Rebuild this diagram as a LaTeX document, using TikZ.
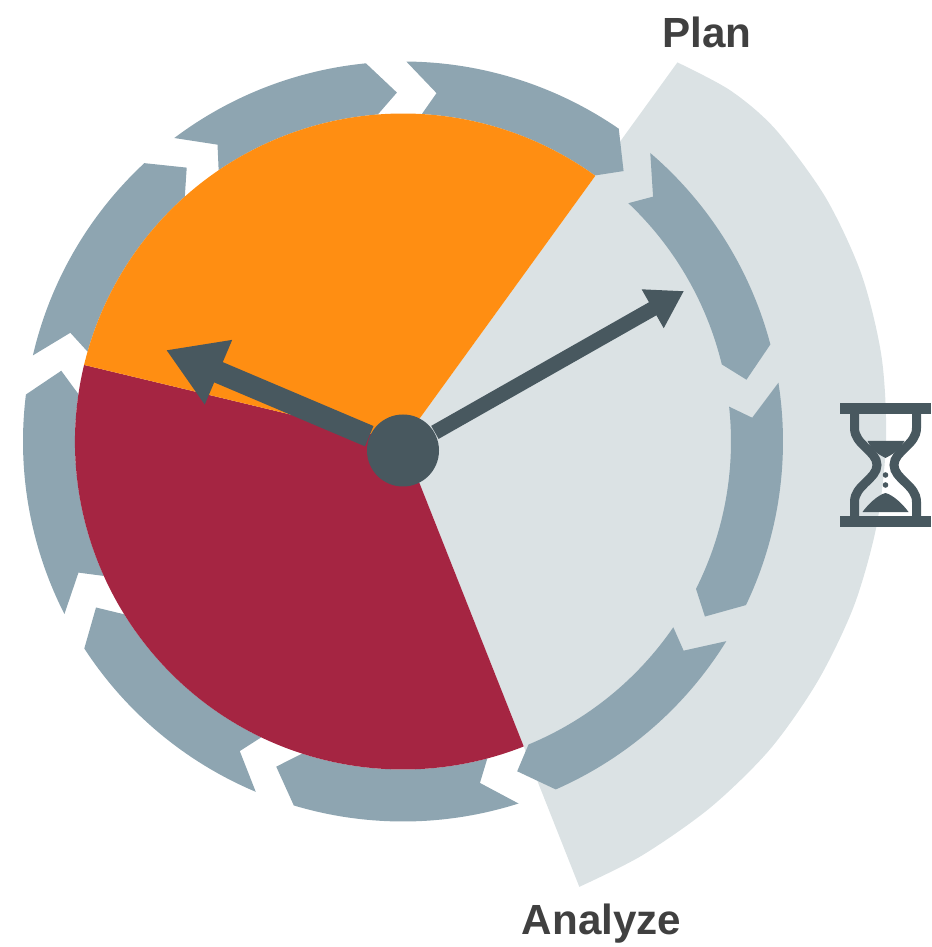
\documentclass[tikz,border=0pt]{standalone}
\usepackage{fontspec}
\setmainfont{Liberation Sans}
\usetikzlibrary{arrows.meta,calc}
\usepackage{tkz-euclide}
\definecolor{SpanClr}{RGB}{219, 226, 228}
\definecolor{RingClr}{RGB}{142, 165, 177}
\definecolor{PlanClr}{RGB}{255, 142, 18}
\definecolor{AnalyzeClr}{RGB}{165, 37, 66}
\definecolor{HandClr}{RGB}{72, 88, 95}
\definecolor{WordClr}{RGB}{64, 64, 64}
\tikzset{
  stagelabel/.style={font=\fontsize{12}{14}\selectfont\bfseries,text=WordClr,inner sep=0pt},
  hubdot/.style={circle,fill=HandClr,minimum size=7.2mm,inner sep=0pt},
  glassline/.style={draw=HandClr,line width=.9mm}
}
% one ring piece: angle of its tail, angle of its head
\newcommand{\RingArrow}[2]{%
  \fill[RingClr] (#1:3.8) arc[start angle=#1,end angle=#2,radius=3.8]
    -- ({#2-4.6}:3.49) -- ({#2-1.2}:3.28)
    arc[start angle={#2-1.2},end angle={#1-2.8},radius=3.28]
    -- ({#1-5}:3.5) -- cycle;}

\begin{document}
\begin{tikzpicture}
\useasboundingbox (-4.03,-5.055) rectangle (5.28,4.415);

\tkzDefPoints{0/0/O}

\tkzDefPoint(54.1:3.28){A}
\tkzDefPoint(166.5:3.28){B}
\tkzDefPoint(-68.4:3.28){C}
\tkzDefPoint(0,-0.09){H}
\tkzDefPoint(2.81,1.505){R}
\tkzDefPoint(-2.37,0.915){L}

\fill[SpanClr] (O) -- plot[smooth] coordinates {(54.1:4.68) (47:4.80) (40:4.86) (30:4.88) (20:4.88) (10:4.86) (0:4.83) (-10:4.81) (-20:4.80) (-30:4.79) (-40:4.79) (-50:4.78) (-60:4.78) (-68.4:4.79)} -- cycle;

\RingArrow{89.5}{55.4}
\RingArrow{49.4}{14.8}
\RingArrow{8.9}{-25.5}
\RingArrow{-31.7}{-66.3}
\RingArrow{-72.3}{-106.7}
\RingArrow{-112.8}{-147}
\RingArrow{-153}{-187.1}
\RingArrow{166.9}{132.9}
\RingArrow{127}{95.6}

\tkzFillSector[fill=AnalyzeClr](O,B)(C)
\tkzFillSector[fill=PlanClr](O,A)(B)

\node[hubdot] (Hub) at (H) {};
\draw[HandClr,line width=1.5mm,-{Triangle[length=3.6mm,width=4.2mm]}] (Hub) -- (R);
\draw[HandClr,line width=2.2mm,-{Triangle[length=5.7mm,width=6.6mm]}] (Hub) -- (L);

\node[stagelabel] (Plan) at (3.04,4.095) {Plan};
\node[stagelabel] (Analyze) at (1.985,-4.825) {Analyze};

% hourglass
\begin{scope}[shift={(4.825,-0.235)}]
\fill[HandClr] (-.455,.51) rectangle (.455,.62);
\fill[HandClr] (-.455,-.62) rectangle (.455,-.51);
\draw[glassline] (-.31,.51) -- (-.31,.37) .. controls (-.31,.2) and (-.085,.14) .. (-.085,0) .. controls (-.085,-.14) and (-.31,-.2) .. (-.31,-.37) -- (-.31,-.51);
\draw[glassline] (.31,.51) -- (.31,.37) .. controls (.31,.2) and (.085,.14) .. (.085,0) .. controls (.085,-.14) and (.31,-.2) .. (.31,-.37) -- (.31,-.51);
\fill[HandClr] (-.18,.24) -- (.19,.24) .. controls (.13,.14) and (.06,.10) .. (0,.07) .. controls (-.06,.10) and (-.13,.14) .. (-.18,.24) -- cycle;
\fill[HandClr] (0,-.28) .. controls (.08,-.30) and (.18,-.40) .. (.23,-.47) -- (-.23,-.47) .. controls (-.18,-.40) and (-.08,-.30) .. (0,-.28) -- cycle;
\fill[HandClr] (0,-.10) circle (.028);
\fill[HandClr] (0,-.20) circle (.028);
\end{scope}

\end{tikzpicture}
\end{document}
